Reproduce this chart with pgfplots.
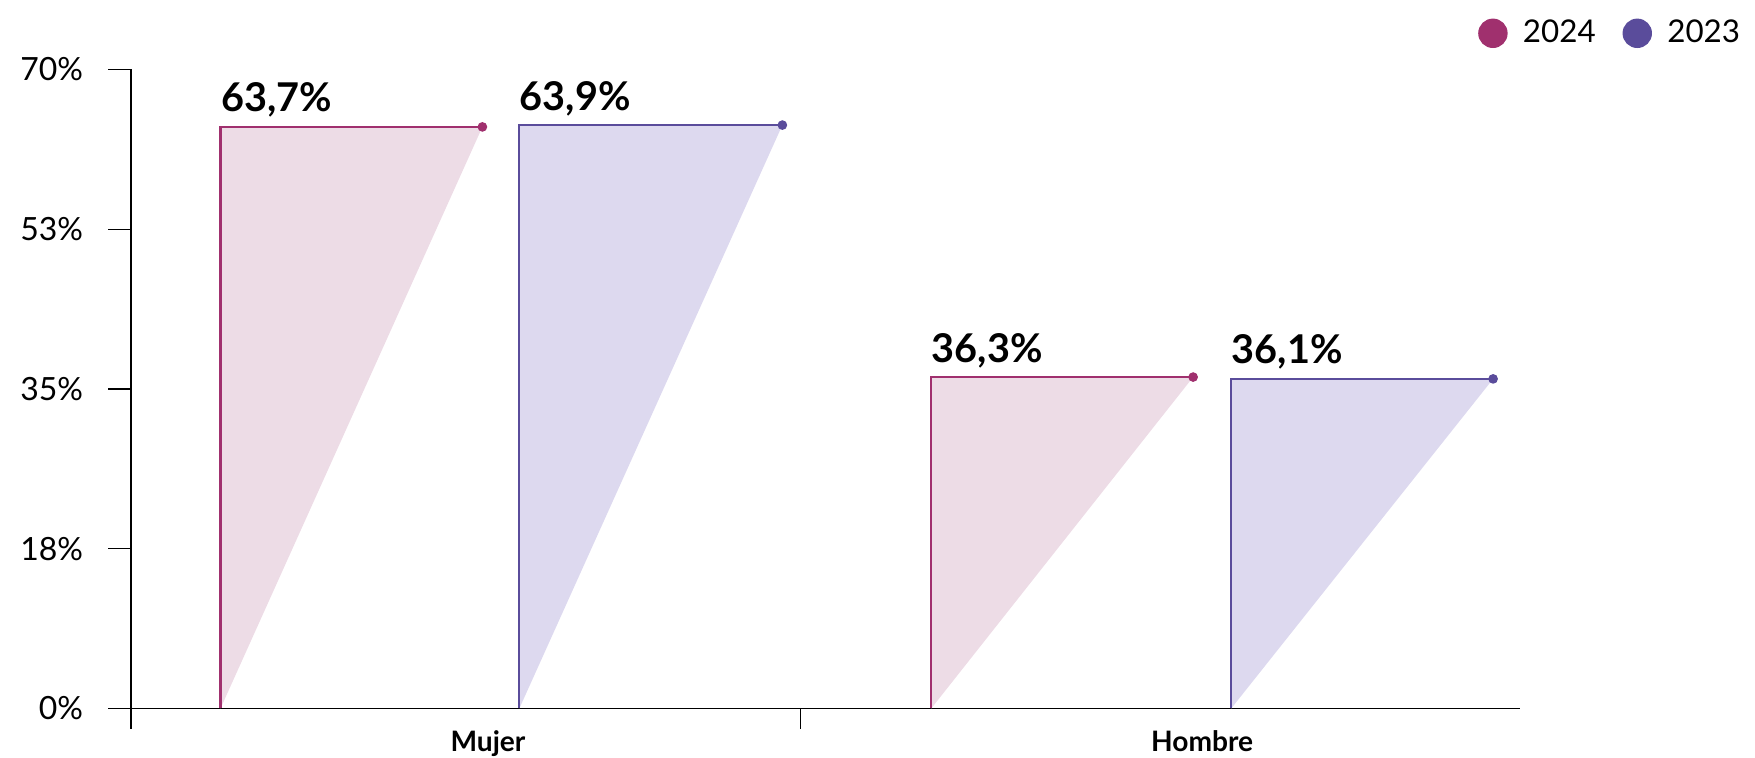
\documentclass[border=0pt]{standalone}
\usepackage{pgfplots}
\pgfplotsset{compat=1.18}
\usepackage{fontspec}
\setmainfont{Lato}
\definecolor{c24}{HTML}{A0306E}
\definecolor{c23}{HTML}{5A4C9B}
\definecolor{f24}{HTML}{EDDCE6}
\definecolor{f23}{HTML}{DDD9EF}

\begin{document}
\begin{tikzpicture}
\path[use as bounding box] (-40.95pt,-15.4pt) rectangle (507.85pt,221.55pt);
\begin{axis}[
  scale only axis, width=434.35pt, height=199.85pt,
  xmin=0, xmax=1241, ymin=0, ymax=70,
  clip=false,
  axis lines*=left,
  axis line style={line width=0.4pt, black},
  tick align=outside,
  major tick length=7.1pt,
  tick style={line width=0.4pt, black},
  ytick={0,17.5,35,52.5,70},
  yticklabels={0\%,18\%,35\%,53\%,70\%},
  yticklabel style={font=\fontsize{10}{12}\selectfont, anchor=east, inner sep=0pt, xshift=-7.7pt},
  xtick={319,957},
  xticklabels={Mujer,Hombre},
  xtick style={draw=none},
  xticklabel style={font=\bfseries\fontsize{8.8}{10}\selectfont, anchor=base, inner sep=0pt, yshift=-6.4pt},
  extra x ticks={0,598},
  extra x tick labels={},
  extra x tick style={xtick style={draw=black, line width=0.4pt}, major tick length=6.3pt},
  legend columns=2,
  legend style={draw=none, fill=none, inner sep=0pt,
    at={(1.1635,1.089)}, anchor=north east,
    font=\fontsize{9.8}{11}\selectfont,
    /tikz/every odd column/.append style={column sep=2.8pt},
    /tikz/every even column/.append style={column sep=6.4pt}},
]
\addlegendimage{legend image code/.code={\fill[c24] (0pt,0pt) circle (4.4pt);}}
\addlegendentry{2024}
\addlegendimage{legend image code/.code={\fill[c23] (0pt,0pt) circle (4.4pt);}}
\addlegendentry{2023}

% Mujer 2024: 63,7 %
\addplot[forget plot, fill=f24, draw=none] coordinates {(80,0) (80,63.7) (314,63.7)} -- cycle;
\addplot[forget plot, c24, line width=0.7pt] coordinates {(80,0) (80,63.7) (314,63.7)};
\addplot[forget plot, only marks, mark=*, mark size=1.3pt, c24] coordinates {(314,63.7)};
% Mujer 2023: 63,9 %
\addplot[forget plot, fill=f23, draw=none] coordinates {(347,0) (347,63.9) (582,63.9)} -- cycle;
\addplot[forget plot, c23, line width=0.7pt] coordinates {(347,0) (347,63.9) (582,63.9)};
\addplot[forget plot, only marks, mark=*, mark size=1.3pt, c23] coordinates {(582,63.9)};
% Hombre 2024: 36,3 %
\addplot[forget plot, fill=f24, draw=none] coordinates {(715,0) (715,36.3) (949,36.3)} -- cycle;
\addplot[forget plot, c24, line width=0.7pt] coordinates {(715,0) (715,36.3) (949,36.3)};
\addplot[forget plot, only marks, mark=*, mark size=1.3pt, c24] coordinates {(949,36.3)};
% Hombre 2023: 36,1 %
\addplot[forget plot, fill=f23, draw=none] coordinates {(983,0) (983,36.1) (1217,36.1)} -- cycle;
\addplot[forget plot, c23, line width=0.7pt] coordinates {(983,0) (983,36.1) (1217,36.1)};
\addplot[forget plot, only marks, mark=*, mark size=1.3pt, c23] coordinates {(1217,36.1)};

% value labels
\begin{scope}[every node/.style={anchor=base west, inner sep=0pt, yshift=4.7pt,
    font=\bfseries\fontsize{12.4}{14}\selectfont}]
\node at (axis cs:80,63.7) {63,7\%};
\node at (axis cs:347,63.9) {63,9\%};
\node at (axis cs:715,36.3) {36,3\%};
\node at (axis cs:983,36.1) {36,1\%};
\end{scope}
\end{axis}
\end{tikzpicture}
\end{document}
